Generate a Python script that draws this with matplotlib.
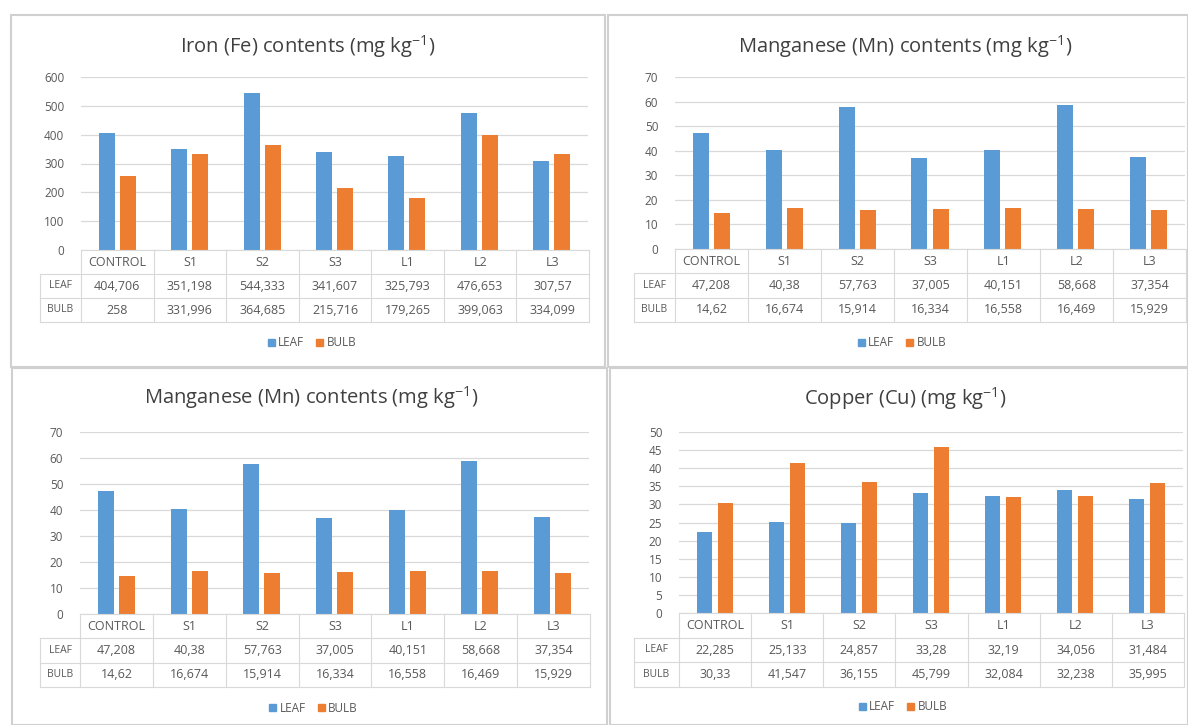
import matplotlib.pyplot as plt
from matplotlib.patches import Rectangle, Patch

plt.rcParams['font.family'] = ['Open Sans', 'DejaVu Sans']
plt.rcParams['mathtext.fontset'] = 'custom'
plt.rcParams['mathtext.rm'] = 'Open Sans'

# data
categories = ['CONTROL', 'S1', 'S2', 'S3', 'L1', 'L2', 'L3']
series_names = ['LEAF', 'BULB']

fe_leaf = [404.706, 351.198, 544.333, 341.607, 325.793, 476.653, 307.57]
fe_bulb = [258, 331.996, 364.685, 215.716, 179.265, 399.063, 334.099]

mn_leaf = [47.208, 40.38, 57.763, 37.005, 40.151, 58.668, 37.354]
mn_bulb = [14.62, 16.674, 15.914, 16.334, 16.558, 16.469, 15.929]

cu_leaf = [22.285, 25.133, 24.857, 33.28, 32.19, 34.056, 31.484]
cu_bulb = [30.33, 41.547, 36.155, 45.799, 32.084, 32.238, 35.995]

titles = ['Iron (Fe) contents (mg kg$^{-1}$)',
          'Manganese (Mn) contents (mg kg$^{-1}$)',
          'Manganese (Mn) contents (mg kg$^{-1}$)',
          'Copper (Cu) (mg kg$^{-1}$)']
y_max = [600, 70, 70, 50]
y_step = [100, 10, 10, 5]

LEAF_C = '#5B9BD5'
BULB_C = '#ED7D31'
GRID_C = '#D9D9D9'
TEXT_C = '#595959'

W, H = 1188, 725
fig = plt.figure(figsize=(W / 100, H / 100), dpi=100)


def rect(x0, y0, x1, y1):
    return [x0 / W, 1 - y1 / H, (x1 - x0) / W, (y1 - y0) / H]


def fmt(v):
    return f'{v:g}'.replace('.', ',')


# panel layout in pixels: box, plot area (left, top, right, zero line), label col left,
# title (x, y), legend y, table bottom
panels = [
    dict(box=(11, 15, 605, 367), plot=(81, 77, 588, 250), lab=40, title=(308, 47), leg=343, tb=322),
    dict(box=(608, 15, 1188, 367), plot=(675, 77, 1185, 249), lab=634, title=(905, 47), leg=343, tb=322),
    dict(box=(12, 368, 607, 725), plot=(80, 432, 589, 614), lab=40, title=(311, 398), leg=708, tb=687),
    dict(box=(610, 368, 1188, 725), plot=(679, 432, 1183, 613), lab=634, title=(905, 399), leg=707, tb=687),
]
panel_data = [(fe_leaf, fe_bulb), (mn_leaf, mn_bulb), (mn_leaf, mn_bulb), (cu_leaf, cu_bulb)]

for p, (leaf, bulb), title, ymax, ystep in zip(panels, panel_data, titles, y_max, y_step):
    bx0, by0, bx1, by1 = p['box']
    fig.patches.append(Rectangle((bx0 / W, 1 - by1 / H), (bx1 - bx0) / W, (by1 - by0) / H,
                                 transform=fig.transFigure, fill=False,
                                 edgecolor='#D0D0D0', linewidth=1.5))
    x0, top, x1, zero = p['plot']
    ax = fig.add_axes(rect(x0, top, x1, zero))
    xs = list(range(len(categories)))
    ax.bar([x - 0.145 for x in xs], leaf, width=0.22, color=LEAF_C, zorder=3)
    ax.bar([x + 0.145 for x in xs], bulb, width=0.22, color=BULB_C, zorder=3)
    ax.set_xlim(-0.5, len(categories) - 0.5)
    ax.set_ylim(0, ymax)
    ax.set_yticks(range(0, ymax + 1, ystep))
    ax.yaxis.grid(True, color=GRID_C, linewidth=0.9, zorder=0)
    ax.set_xticks([])
    for s in ax.spines.values():
        s.set_visible(False)
    ax.tick_params(axis='y', length=0, labelsize=8.5, labelcolor=TEXT_C, pad=12)

    fig.text(p['title'][0] / W, 1 - p['title'][1] / H, title, ha='center', va='center',
             fontsize=14.5, color='#404040')

    # data table under the axis
    cw = (x1 - x0) / len(categories)
    lab_w = (x0 - p['lab']) / cw
    tax = fig.add_axes(rect(p['lab'], zero, x1 + 1, p['tb']))
    tax.set_xlim(-0.5 - lab_w, len(categories) - 0.5)
    tax.set_ylim(3, 0)
    tax.axis('off')
    lw = 0.8
    tax.plot([-0.5, len(categories) - 0.5], [0, 0], color=GRID_C, lw=lw, clip_on=False)
    for r in (1, 2, 3):
        tax.plot([-0.5 - lab_w, len(categories) - 0.5], [r, r], color=GRID_C, lw=lw, clip_on=False)
    tax.plot([-0.5 - lab_w, -0.5 - lab_w], [1, 3], color=GRID_C, lw=lw, clip_on=False)
    for k in range(len(categories) + 1):
        tax.plot([k - 0.5, k - 0.5], [0, 3], color=GRID_C, lw=lw, clip_on=False)
    for i, c in enumerate(categories):
        tax.text(i, 0.5, c, ha='center', va='center', fontsize=9, color=TEXT_C)
        tax.text(i, 1.5, fmt(leaf[i]), ha='center', va='center', fontsize=9, color=TEXT_C)
        tax.text(i, 2.5, fmt(bulb[i]), ha='center', va='center', fontsize=9, color=TEXT_C)
    for r, name in enumerate(series_names):
        tax.text(-0.5 - lab_w / 2, r + 1.5, name, ha='center', va='center', fontsize=7.5, color=TEXT_C)

    handles = [Patch(color=LEAF_C, label=series_names[0]), Patch(color=BULB_C, label=series_names[1])]
    fig.legend(handles=handles, loc='center', bbox_to_anchor=(((bx0 + bx1) / 2 + 4) / W, 1 - p['leg'] / H),
               ncol=2, frameon=False, fontsize=8.5, handlelength=0.6, handleheight=0.6,
               handletextpad=0.3, columnspacing=1.0, labelcolor=TEXT_C)

fig.savefig('out.png', dpi=100)
